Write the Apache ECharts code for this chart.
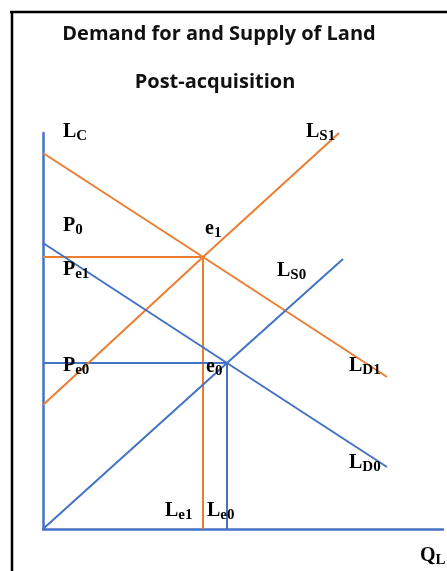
<!DOCTYPE html>
<html>
<head>
<meta charset="utf-8">
<script src="https://cdn.jsdelivr.net/npm/echarts@6/dist/echarts.min.js"></script>
<style>
  html, body { margin: 0; padding: 0; background: #fff; }
  #chart { width: 447px; height: 571px; }
</style>
</head>
<body>
<div id="chart"></div>
<script>
// curves as [quantity, price] points
const demandOld = [[0, 71.5], [46, 41.5], [86, 15.5]];   // LD0
const supplyOld = [[0, 0], [46, 41.5], [75, 67.5]];      // LS0
const demandNew = [[0, 94], [40, 68], [86, 38]];         // LD1
const supplyNew = [[0, 31], [40, 68], [74, 99]];         // LS1
// equilibrium guides
const guideOld = [[0, 41.5], [46, 41.5], [46, 0]];
const guideNew = [[0, 68], [40, 68], [40, 0]];

const BLUE = '#4472c4';
const ORANGE = '#ed7d31';

const chart = echarts.init(document.getElementById('chart'));

const rich = {
  b: { fontFamily: 'Liberation Serif', fontWeight: 'bold', fontSize: 20, color: '#111', lineHeight: 24, verticalAlign: 'middle' },
  s: { fontFamily: 'Liberation Serif', fontWeight: 'bold', fontSize: 15, color: '#111', lineHeight: 15, verticalAlign: 'bottom' }
};

// label helper: main letter + subscript
const lab = (x, y, main, sub) => ({
  type: 'text', x: x, y: y, z: 10,
  style: { text: '{b|' + main + '}' + (sub ? '{s|' + sub + '}' : ''), rich: rich, verticalAlign: 'top' }
});

const lineSeries = (data, color, width) => ({
  type: 'line', data: data, symbol: 'none', silent: true,
  lineStyle: { color: color, width: width || 2 }
});

chart.setOption({
  backgroundColor: '#fff',
  animation: false,
  grid: { left: 43, top: 133, right: 4, bottom: 42 },
  xAxis: {
    type: 'value', min: 0, max: 100,
    axisLine: { show: true, lineStyle: { color: BLUE, width: 2.5 } },
    axisTick: { show: false }, axisLabel: { show: false }, splitLine: { show: false }
  },
  yAxis: {
    type: 'value', min: 0, max: 99,
    axisLine: { show: true, lineStyle: { color: BLUE, width: 2.5 } },
    axisTick: { show: false }, axisLabel: { show: false }, splitLine: { show: false }
  },
  series: [
    lineSeries(guideNew, ORANGE),
    lineSeries(guideOld, BLUE),
    lineSeries(demandNew, ORANGE),
    lineSeries(supplyNew, ORANGE),
    lineSeries(demandOld, BLUE),
    lineSeries(supplyOld, BLUE)
  ],
  graphic: [
    // frame
    { type: 'line', shape: { x1: 10, y1: 12, x2: 447, y2: 12 }, style: { stroke: '#000', lineWidth: 2.5 } },
    { type: 'line', shape: { x1: 12, y1: 11, x2: 12, y2: 571 }, style: { stroke: '#000', lineWidth: 2.5 } },
    // titles
    { type: 'text', x: 219, y: 34, style: { text: 'Demand for and Supply of Land', fontFamily: 'Open Sans', fontWeight: 'bold', fontSize: 20, fill: '#111', align: 'center', verticalAlign: 'middle' } },
    { type: 'text', x: 215, y: 82, style: { text: 'Post-acquisition', fontFamily: 'Open Sans', fontWeight: 'bold', fontSize: 20, fill: '#111', align: 'center', verticalAlign: 'middle' } },
    lab(63, 120, 'L', 'C'),
    lab(306, 120, 'L', 'S1'),
    lab(63, 214, 'P', '0'),
    lab(205, 217, 'e', '1'),
    lab(63, 258, 'P', 'e1'),
    lab(277, 259, 'L', 'S0'),
    lab(63, 354, 'P', 'e0'),
    lab(206, 355, 'e', '0'),
    lab(349, 354, 'L', 'D1'),
    lab(349, 451, 'L', 'D0'),
    lab(165, 499, 'L', 'e1'),
    lab(207, 499, 'L', 'e0'),
    lab(420, 544, 'Q', 'L')
  ]
});
</script>
</body>
</html>
